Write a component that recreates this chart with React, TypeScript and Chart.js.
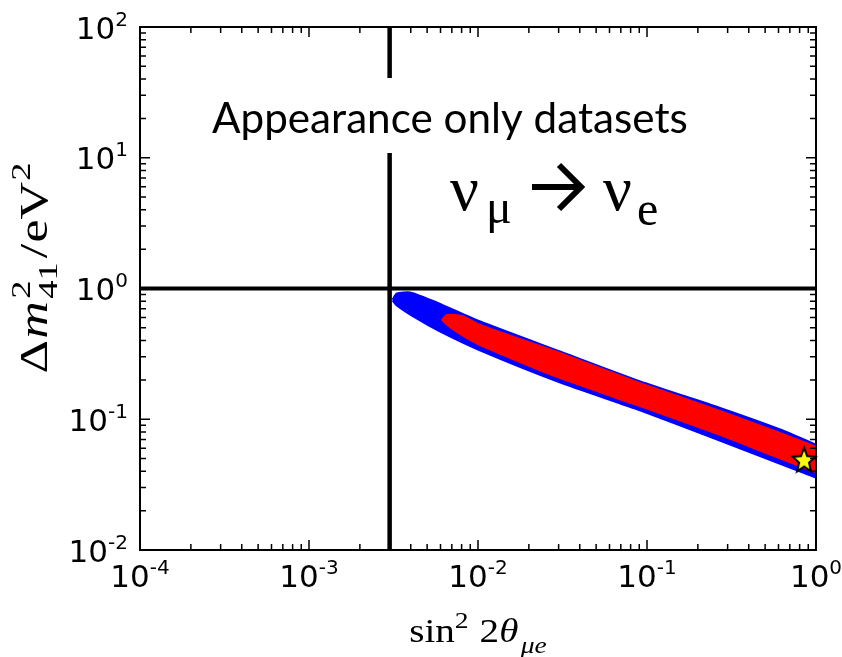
import { useEffect, useRef } from 'react';
import { Chart, registerables } from 'chart.js';

Chart.register(...registerables);

// ---- axis ticks ----
const xTickValues = [1e-4, 1e-3, 1e-2, 1e-1, 1];
const xTickLabels = ['10^-4', '10^-3', '10^-2', '10^-1', '10^0'];
const yTickValues = [1e-2, 1e-1, 1, 10, 100];
const yTickLabels = ['10^-2', '10^-1', '10^0', '10^1', '10^2'];

// ---- reference lines ----
const vLineX = 0.003;
const hLineY = 1;

// ---- allowed region (blue, outer) ----
const blueUpperX = [0.00314, 0.00332, 0.00396, 0.00571, 0.01028, 0.0305, 0.091, 0.27, 0.612, 1.0];
const blueUpperY = [0.817, 0.908, 0.925, 0.774, 0.555, 0.327, 0.193, 0.121, 0.0828, 0.0635];
const blueLowerX = [0.00314, 0.00332, 0.00435, 0.00596, 0.01028, 0.0305, 0.091, 0.27, 1.0];
const blueLowerY = [0.817, 0.748, 0.594, 0.473, 0.339, 0.193, 0.118, 0.0694, 0.0361];

// ---- allowed region (red, inner) ----
const redUpperX = [0.00612, 0.00656, 0.00803, 0.01028, 0.0305, 0.091, 0.27, 0.612, 1.0];
const redUpperY = [0.574, 0.627, 0.617, 0.526, 0.321, 0.189, 0.116, 0.0785, 0.0614];
const redLowerX = [0.00612, 0.00682, 0.00837, 0.01028, 0.0305, 0.091, 0.27, 0.612, 1.0];
const redLowerY = [0.574, 0.508, 0.426, 0.37, 0.207, 0.126, 0.0759, 0.0502, 0.0395];

// ---- best fit point ----
const starX = [0.85];
const starY = [0.049];

// ---- texts ----
const annotationTitle = 'Appearance only datasets';

const pts = (xs: number[], ys: number[]) => xs.map((x, i) => ({ x, y: ys[i] }));

function makeStar(): HTMLCanvasElement {
  const c = document.createElement('canvas');
  c.width = 30;
  c.height = 32;
  const g = c.getContext('2d')!;
  g.beginPath();
  for (let i = 0; i < 10; i++) {
    const r = i % 2 === 0 ? 12 : 5.2;
    const a = -Math.PI / 2 + (i * Math.PI) / 5;
    const px = 15 + r * Math.cos(a);
    const py = 17 + r * 1.1 * Math.sin(a);
    if (i === 0) g.moveTo(px, py);
    else g.lineTo(px, py);
  }
  g.closePath();
  g.fillStyle = '#ffff00';
  g.fill();
  g.lineWidth = 2;
  g.strokeStyle = '#000';
  g.lineJoin = 'miter';
  g.stroke();
  return c;
}

type Run = { t: string; font: string; dy?: number; noAdvance?: boolean; gap?: number };

function runsWidth(ctx: CanvasRenderingContext2D, runs: Run[]) {
  let w = 0;
  for (const r of runs) {
    ctx.font = r.font;
    if (!r.noAdvance) w += ctx.measureText(r.t).width + (r.gap || 0);
  }
  return w;
}

function drawRuns(ctx: CanvasRenderingContext2D, runs: Run[], x: number, y: number) {
  let cx = x;
  for (const r of runs) {
    ctx.font = r.font;
    ctx.fillText(r.t, cx, y + (r.dy || 0));
    if (!r.noAdvance) cx += ctx.measureText(r.t).width + (r.gap || 0);
  }
}

const BASE_FONT = '31px "DejaVu Sans"';
const EXP_FONT = '20px "DejaVu Sans"';

function drawPowLabel(ctx: CanvasRenderingContext2D, label: string, x: number, digitsBaseline: number, anchor: 'right' | 'center') {
  const [base, exp] = label.split('^');
  ctx.font = BASE_FONT;
  const wb = ctx.measureText(base).width;
  ctx.font = EXP_FONT;
  const we = ctx.measureText(exp).width;
  const total = wb + we;
  const left = anchor === 'right' ? x - total : x - total / 2;
  ctx.font = BASE_FONT;
  ctx.fillText(base, left, digitsBaseline);
  ctx.font = EXP_FONT;
  ctx.fillText(exp, left + wb, digitsBaseline - 22.6 - 5 + 14.6);
}

const framePlugin = {
  id: 'frameTicks',
  afterDatasetsDraw(chart: any) {
    const { ctx, chartArea: a, scales } = chart;
    const xs = scales.x;
    const ys = scales.y;
    ctx.save();
    ctx.strokeStyle = '#000';
    ctx.lineWidth = 1.5;
    ctx.beginPath();
    const e0x = Math.round(Math.log10(xs.min));
    const e1x = Math.round(Math.log10(xs.max));
    for (let e = e0x; e <= e1x; e++) {
      for (let m = 1; m <= 9; m++) {
        const v = m * Math.pow(10, e);
        if (v > xs.max * 1.0001) break;
        const px = xs.getPixelForValue(v);
        const len = m === 1 ? 10 : 6;
        ctx.moveTo(px, a.bottom);
        ctx.lineTo(px, a.bottom - len);
        ctx.moveTo(px, a.top);
        ctx.lineTo(px, a.top + len);
      }
    }
    const e0y = Math.round(Math.log10(ys.min));
    const e1y = Math.round(Math.log10(ys.max));
    for (let e = e0y; e <= e1y; e++) {
      for (let m = 1; m <= 9; m++) {
        const v = m * Math.pow(10, e);
        if (v > ys.max * 1.0001) break;
        const py = ys.getPixelForValue(v);
        const len = m === 1 ? 10 : 6;
        ctx.moveTo(a.left, py);
        ctx.lineTo(a.left + len, py);
        ctx.moveTo(a.right, py);
        ctx.lineTo(a.right - len, py);
      }
    }
    ctx.stroke();
    ctx.lineWidth = 2;
    ctx.strokeRect(a.left, a.top, a.right - a.left, a.bottom - a.top);
    ctx.restore();
  },
  afterDraw(chart: any) {
    const { ctx, chartArea: a, scales } = chart;
    ctx.save();
    ctx.fillStyle = '#000';
    ctx.textAlign = 'left';
    ctx.textBaseline = 'alphabetic';

    // tick labels with superscript exponents
    xTickValues.forEach((v, i) => {
      const px = scales.x.getPixelForValue(v);
      drawPowLabel(ctx, xTickLabels[i], px, a.bottom + 37, 'center');
    });
    yTickValues.forEach((v, i) => {
      const py = scales.y.getPixelForValue(v);
      drawPowLabel(ctx, yTickLabels[i], a.left - 12, py + 11.5, 'right');
    });

    // white box behind the caption
    ctx.fillStyle = '#fff';
    ctx.fillRect(200, 78, 500, 75);
    ctx.fillStyle = '#000';

    // caption, fitted to the reference width
    let fs = 40;
    ctx.font = `${fs}px Lato`;
    const w0 = ctx.measureText(annotationTitle).width;
    fs = (fs * 476) / w0;
    ctx.font = `${fs}px Lato`;
    ctx.fillText(annotationTitle, 212, 133);

    // nu_mu -> nu_e
    ctx.font = '64px "Liberation Serif"';
    ctx.fillText('ν', 450, 210);
    ctx.font = '48px "Liberation Serif"';
    ctx.fillText('μ', 486, 223);
    ctx.font = '64px "Liberation Serif"';
    ctx.fillText('ν', 603, 210);
    ctx.font = '48px "Liberation Serif"';
    ctx.fillText('e', 637, 225);
    // arrow
    ctx.strokeStyle = '#000';
    ctx.lineWidth = 6;
    ctx.lineJoin = 'miter';
    ctx.beginPath();
    ctx.moveTo(532, 187);
    ctx.lineTo(578, 187);
    ctx.stroke();
    ctx.beginPath();
    ctx.moveTo(559, 165);
    ctx.lineTo(581, 187);
    ctx.lineTo(559, 209);
    ctx.stroke();

    const serif = '"Liberation Serif"';

    // x axis title: sin^2 2θ_{μe}
    const S = 34;
    const xRuns: Run[] = [
      { t: 'sin', font: `${S}px ${serif}` },
      { t: '2', font: `${Math.round(S * 0.7)}px ${serif}`, dy: -S * 0.42, gap: S * 0.28 },
      { t: '2', font: `${S}px ${serif}` },
      { t: 'θ', font: `italic ${S}px ${serif}`, gap: 2 },
      { t: 'μe', font: `italic ${Math.round(S * 0.7)}px ${serif}`, dy: S * 0.33 },
    ];
    const xw = runsWidth(ctx, xRuns);
    ctx.save();
    ctx.translate((a.left + a.right) / 2, 642);
    ctx.scale(1.15, 1);
    drawRuns(ctx, xRuns, -xw / 2, 0);
    ctx.restore();

    // y axis title: Δm^2_{41}/eV^2
    const T = 40;
    const yRuns: Run[] = [
      { t: 'Δ', font: `${T}px ${serif}`, gap: 1 },
      { t: 'm', font: `italic ${T}px ${serif}`, gap: 2 },
      { t: '2', font: `${Math.round(T * 0.7)}px ${serif}`, dy: -T * 0.42, noAdvance: true },
      { t: '41', font: `${Math.round(T * 0.7)}px ${serif}`, dy: T * 0.26, gap: 3 },
      { t: '/', font: `${T}px ${serif}`, gap: 1 },
      { t: 'eV', font: `${T}px ${serif}`, gap: 1 },
      { t: '2', font: `${Math.round(T * 0.7)}px ${serif}`, dy: -T * 0.42 },
    ];
    const yw = runsWidth(ctx, yRuns);
    ctx.translate(47, 268);
    ctx.rotate(-Math.PI / 2);
    ctx.scale(1.3, 1);
    drawRuns(ctx, yRuns, -yw / 2, 0);
    ctx.restore();
  },
};

export default function App() {
  const ref = useRef<HTMLCanvasElement>(null);
  useEffect(() => {
    const canvas = ref.current!;
    const starImg = makeStar();
    const xMin = xTickValues[0];
    const xMax = xTickValues[xTickValues.length - 1];
    const yMin = yTickValues[0];
    const yMax = yTickValues[yTickValues.length - 1];
    const chart = new Chart(canvas, {
      type: 'line',
      data: {
        datasets: [
          {
            data: pts(starX, starY),
            showLine: false,
            pointStyle: starImg as any,
            pointRadius: 13,
            borderColor: 'transparent',
            backgroundColor: 'transparent',
            clip: false as any,
          },
          {
            data: [{ x: vLineX, y: yMin }, { x: vLineX, y: yMax }],
            borderColor: '#000',
            borderWidth: 4.5,
            pointRadius: 0,
            fill: false,
          },
          {
            data: [{ x: xMin, y: hLineY }, { x: xMax, y: hLineY }],
            borderColor: '#000',
            borderWidth: 4,
            pointRadius: 0,
            fill: false,
          },
          {
            data: pts(redUpperX, redUpperY),
            borderColor: '#ff0000',
            backgroundColor: '#ff0000',
            borderWidth: 2,
            pointRadius: 0,
            tension: 0.2,
            fill: '+1',
            clip: 0,
          },
          {
            data: pts(redLowerX, redLowerY),
            borderColor: '#ff0000',
            borderWidth: 2,
            pointRadius: 0,
            tension: 0.2,
            fill: false,
            clip: 0,
          },
          {
            data: pts(blueUpperX, blueUpperY),
            borderColor: '#0000ff',
            backgroundColor: '#0000ff',
            borderWidth: 3,
            pointRadius: 0,
            tension: 0.2,
            fill: '+1',
            clip: 0,
          },
          {
            data: pts(blueLowerX, blueLowerY),
            borderColor: '#0000ff',
            borderWidth: 3,
            pointRadius: 0,
            tension: 0.2,
            fill: false,
            clip: 0,
          },
        ] as any,
      },
      options: {
        animation: false,
        responsive: false,
        events: [],
        layout: { padding: { top: 27, right: 26, left: 0, bottom: 0 } },
        plugins: { legend: { display: false }, tooltip: { enabled: false } },
        scales: {
          x: {
            type: 'logarithmic',
            position: 'bottom',
            min: xMin,
            max: xMax,
            grid: { display: false, drawTicks: false },
            border: { display: false },
            afterBuildTicks: (s: any) => {
              s.ticks = xTickValues.map((v) => ({ value: v }));
            },
            afterFit: (s: any) => {
              s.height = 107;
              s.paddingLeft = 0;
              s.paddingRight = 0;
            },
            ticks: { display: false },
          },
          y: {
            type: 'logarithmic',
            position: 'left',
            min: yMin,
            max: yMax,
            grid: { display: false, drawTicks: false },
            border: { display: false },
            afterBuildTicks: (s: any) => {
              s.ticks = yTickValues.map((v) => ({ value: v }));
            },
            afterFit: (s: any) => {
              s.width = 140;
              s.paddingTop = 0;
              s.paddingBottom = 0;
            },
            ticks: { display: false },
          },
        },
      } as any,
      plugins: [framePlugin],
    });
    return () => chart.destroy();
  }, []);
  return (
    <div style={{ position: 'fixed', left: 0, top: 0, width: 842, height: 657, background: '#fff' }}>
      <canvas ref={ref} width={842} height={657} style={{ display: 'block', width: 842, height: 657 }} />
    </div>
  );
}
